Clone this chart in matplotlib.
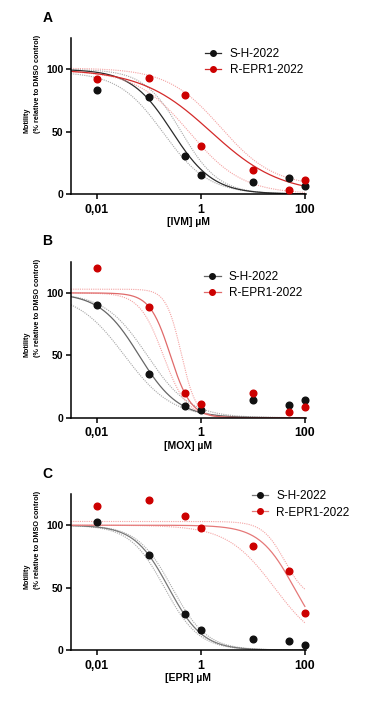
import numpy as np
import matplotlib
matplotlib.use("Agg")
import matplotlib.pyplot as plt
from matplotlib.lines import Line2D

plt.rcParams["font.family"] = ["Liberation Sans", "DejaVu Sans"]

conc = [0.01, 0.1, 0.5, 1, 10, 50, 100]

# measured motility (% of DMSO control)
ivm_sh = [83.1, 77.5, 30.6, 15.3, 9.7, 12.6, 6.2]
ivm_r = [92.2, 93.3, 79.4, 38.3, 19.6, 3.5, 11.5]
mox_sh = [90.6, 35.1, 9.1, 5.9, 14.5, 10.5, 14.2]
mox_r = [119.8, 89.0, 19.8, 11.0, 20.1, 4.8, 8.3]
epr_sh = [102.4, 75.9, 28.9, 16.3, 8.6, 7.2, 4.3]
epr_r = [115.0, 120.3, 107.2, 97.6, 83.4, 63.1, 29.9]

# dose-response fits: (top, bottom, IC50, hill) for fit, upper and lower band
ivm_sh_fit = [(100, 0, 0.28, 1.1), (100, 0, 0.42, 1.2), (98, 0, 0.19, 1.0)]
ivm_r_fit = [(100, 0, 1.55, 0.65), (101, 6, 2.4, 0.85), (99, 0, 0.6, 0.85)]
mox_sh_fit = [(100, 0, 0.065, 1.15), (100, 0, 0.093, 1.06), (100, 0, 0.034, 0.95)]
mox_r_fit = [(100, 0, 0.26, 2.2), (103, 0, 0.42, 3.0), (100, 0, 0.19, 1.9)]
epr_sh_fit = [(100, 0, 0.24, 1.32), (100, 0, 0.28, 1.3), (100, 0, 0.2, 1.3)]
epr_r_fit = [(100, 0, 62, 1.3), (103, 40, 40.8, 2.04), (100, 0, 26, 0.95)]

labels = ["S-H-2022", "R-EPR1-2022"]


def hill(x, top, bottom, ic50, h):
    return bottom + (top - bottom) / (1 + (x / ic50) ** h)


fig = plt.figure(figsize=(3.77, 7.06), dpi=100)

panels = [
    ("A", "[IVM] µM", ivm_sh, ivm_r, ivm_sh_fit, ivm_r_fit, 0.7252,
     ("#2b2b2b", "#d42a2a"), (0.570, 0.936)),
    ("B", "[MOX] µM", mox_sh, mox_r, mox_sh_fit, mox_r_fit, 0.4083,
     ("#666666", "#e06a6a"), (0.566, 0.94)),
    ("C", "[EPR] µM", epr_sh, epr_r, epr_sh_fit, epr_r_fit, 0.0793,
     ("#777777", "#e57878"), (0.769, 1.023)),
]

xs = np.logspace(np.log10(0.0032), 2, 300)

for letter, xlab, sh, r, sh_fit, r_fit, bottom, solid, leg_pos in panels:
    ax = fig.add_axes([0.1883, bottom, 0.6233, 0.221])
    for fits, col, band in ((sh_fit, solid[0], "#a8a8a8"), (r_fit, solid[1], "#f4a3a3")):
        ax.plot(xs, hill(xs, *fits[1]), ls=(0, (1, 1)), lw=0.8, color=band)
        ax.plot(xs, hill(xs, *fits[2]), ls=(0, (1, 1)), lw=0.8, color=band)
        ax.plot(xs, hill(xs, *fits[0]), lw=0.9, color=col)
    ax.plot(conc, sh, "o", ms=4.8, color="#111111", ls="none", clip_on=False, zorder=5)
    ax.plot(conc, r, "o", ms=4.8, color="#cc0000", ls="none", clip_on=False, zorder=5)

    ax.set_xscale("log")
    ax.set_xlim(0.0032, 105)
    ax.set_ylim(0, 125)
    ax.set_xticks([0.01, 1, 100])
    ax.set_xticklabels(["0,01", "1", "100"])
    ax.xaxis.set_minor_locator(matplotlib.ticker.NullLocator())
    ax.set_yticks([0, 50, 100])
    for s in ("top", "right"):
        ax.spines[s].set_visible(False)
    for s in ("left", "bottom"):
        ax.spines[s].set_linewidth(1.1)
    ax.tick_params(width=1.1, length=3.5, pad=2)
    ax.tick_params(axis="y", labelsize=7.5)
    ax.tick_params(axis="x", labelsize=8.8, pad=3.5)
    for t in ax.get_xticklabels() + ax.get_yticklabels():
        t.set_fontweight("bold")
    ax.set_xlabel(xlab, fontsize=7.5, fontweight="bold", labelpad=1)

    ax.text(-0.164, 0.39, "Motility\n(% relative to DMSO control)", transform=ax.transAxes,
            rotation=90, ha="center", va="bottom", multialignment="left",
            fontsize=5.2, fontweight="bold", linespacing=1.6)
    ax.text(-0.10, 1.13, letter, transform=ax.transAxes, fontsize=10,
            fontweight="bold", ha="center", va="center")

    handles = [
        Line2D([], [], color=solid[0], marker="o", ms=4, mfc="#111111", mec="#111111", lw=0.9),
        Line2D([], [], color=solid[1], marker="o", ms=4, mfc="#cc0000", mec="#cc0000", lw=0.9),
    ]
    ax.legend(handles, labels, loc="upper left", bbox_to_anchor=leg_pos, frameon=False,
              fontsize=8.5, borderpad=0, borderaxespad=0, handlelength=1.4,
              handletextpad=0.7, labelspacing=0.35)

fig.savefig("out.png", dpi=100)
